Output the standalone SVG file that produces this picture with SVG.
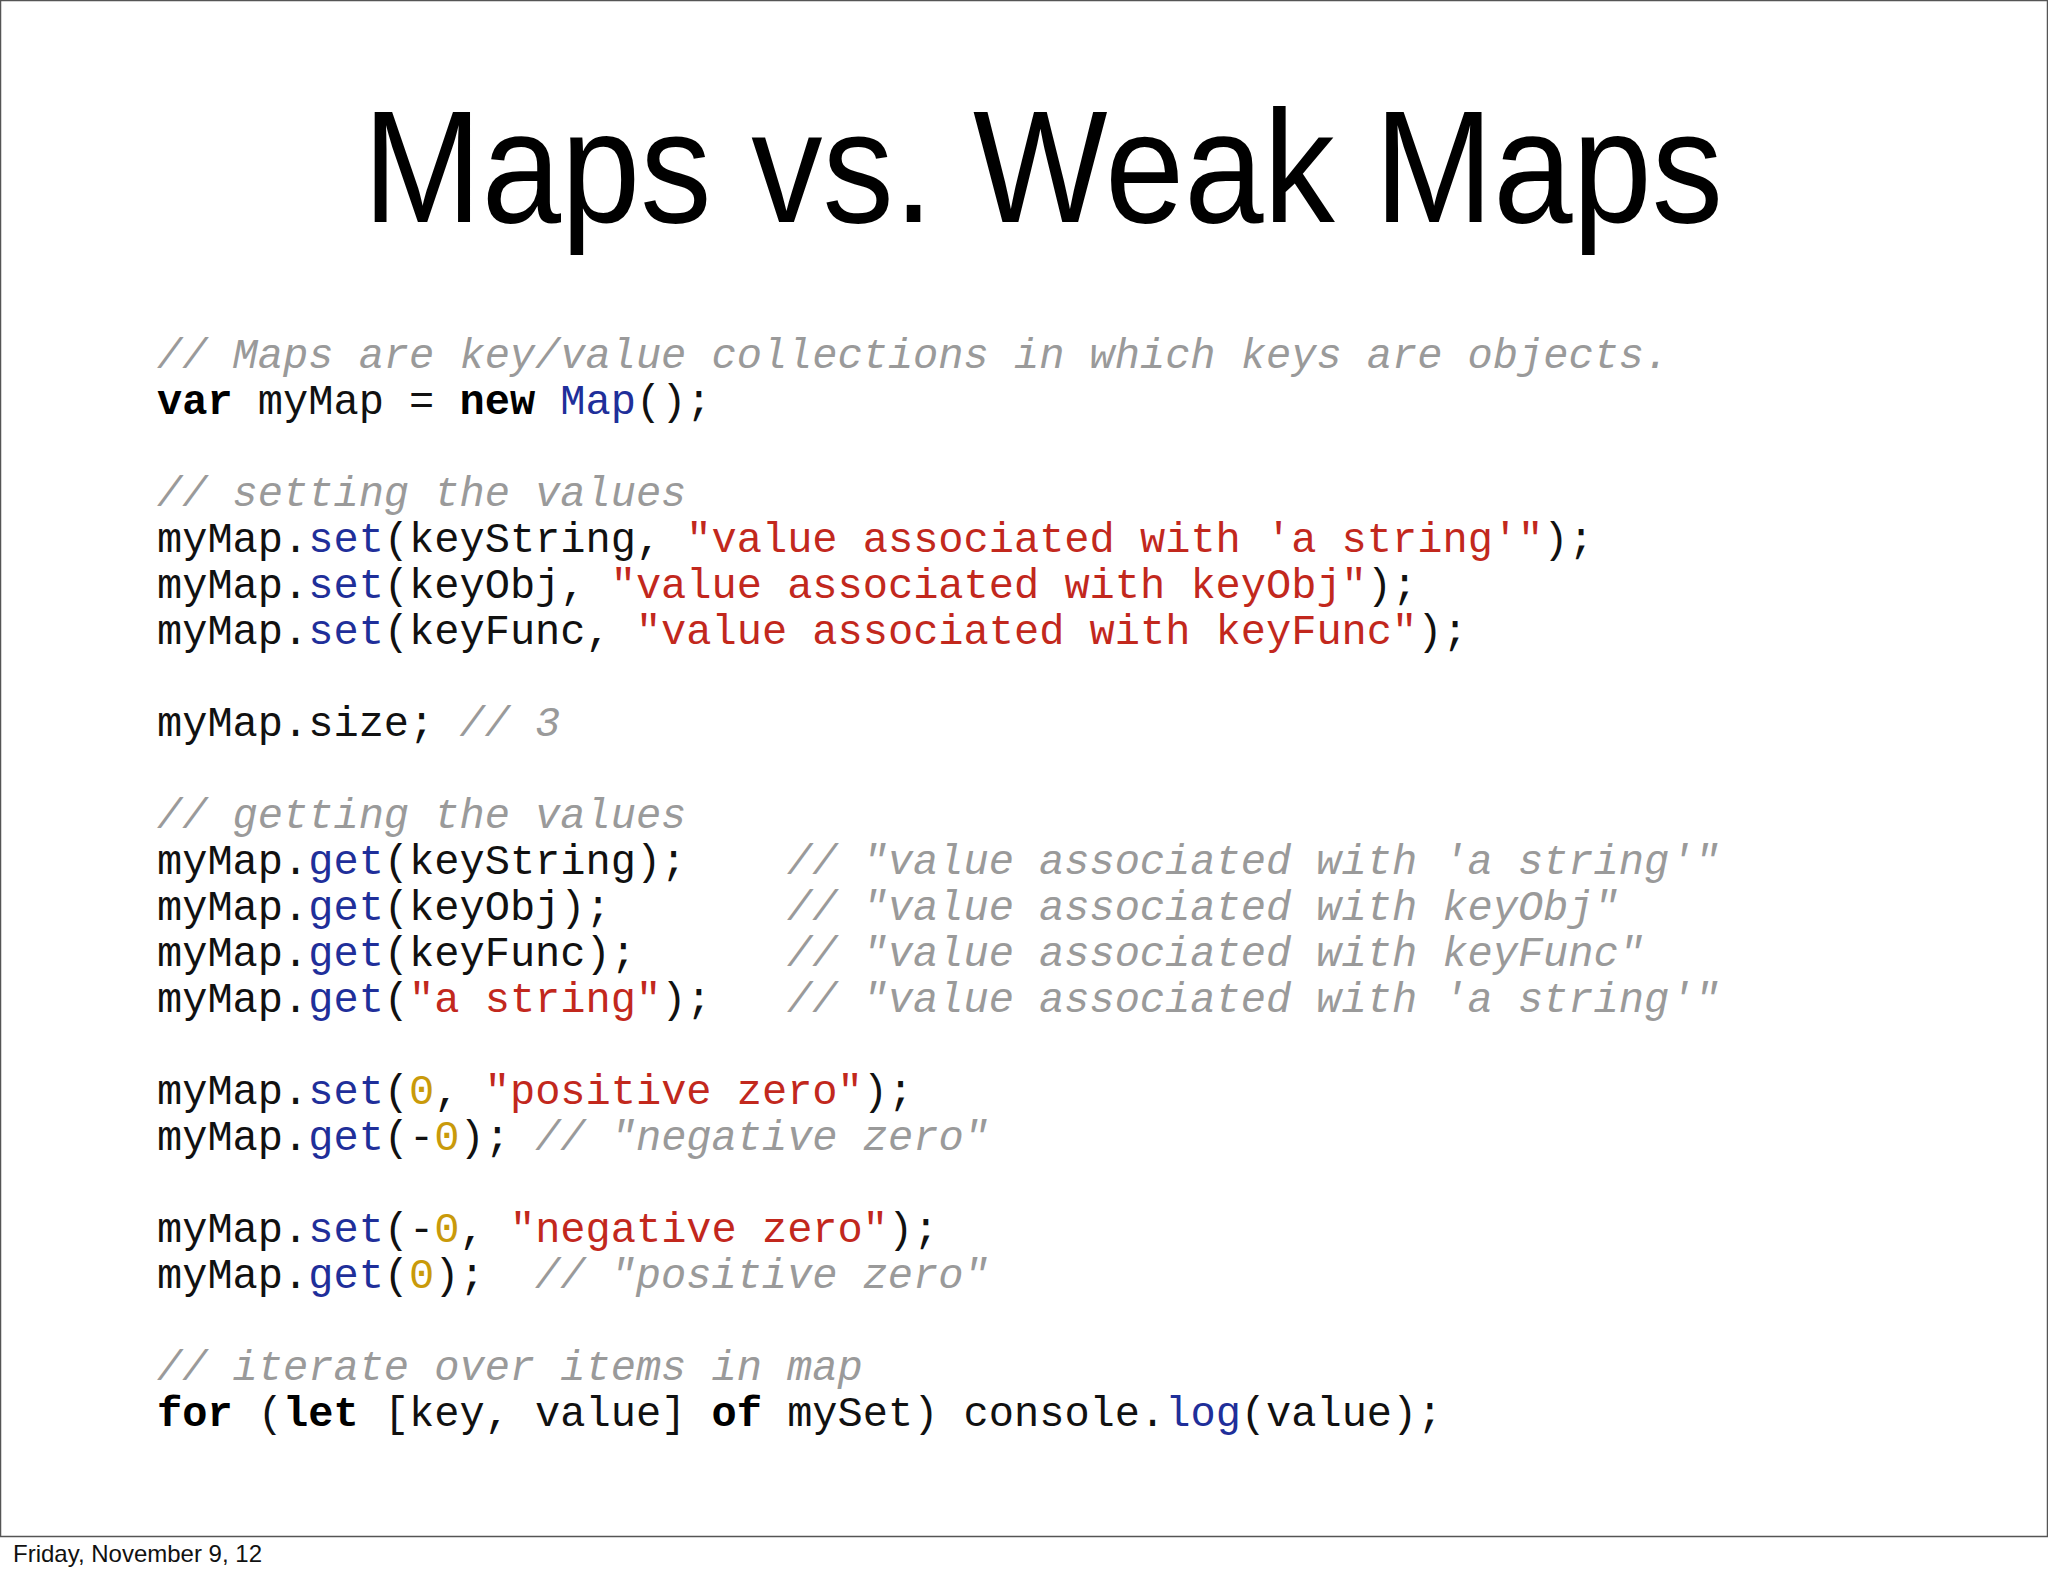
<svg xmlns="http://www.w3.org/2000/svg" width="2048" height="1576" viewBox="0 0 2048 1576">
<style>
.c{font-family:"Liberation Mono",monospace;font-size:42px;fill:#111}
.k{font-weight:bold;fill:#000}
.b{fill:#1f2f9a}
.r{fill:#c2281d}
.n{fill:#c99a0a}
.m{fill:#9a9a9a;font-style:italic}
</style>
<rect x="0" y="0" width="2048" height="1576" fill="#fff"/>
<rect x="0.5" y="0.5" width="2047" height="1536" fill="#fff" stroke="#555" stroke-width="1.5"/>
<g id="title"><text x="1043" y="222" text-anchor="middle" font-family="Gill Sans,'Liberation Sans',sans-serif" font-size="160" textLength="1360" lengthAdjust="spacingAndGlyphs">Maps vs. Weak Maps</text></g>
<g id="code" class="c">
<text x="157" y="368"><tspan class="m">// Maps are key/value collections in which keys are objects.</tspan></text>
<text x="157" y="414"><tspan class="k">var</tspan> myMap = <tspan class="k">new</tspan> <tspan class="b">Map</tspan>();</text>
<text x="157" y="506"><tspan class="m">// setting the values</tspan></text>
<text x="157" y="552">myMap.<tspan class="b">set</tspan>(keyString, <tspan class="r">"value associated with 'a string'"</tspan>);</text>
<text x="157" y="598">myMap.<tspan class="b">set</tspan>(keyObj, <tspan class="r">"value associated with keyObj"</tspan>);</text>
<text x="157" y="644">myMap.<tspan class="b">set</tspan>(keyFunc, <tspan class="r">"value associated with keyFunc"</tspan>);</text>
<text x="157" y="736">myMap.size; <tspan class="m">// 3</tspan></text>
<text x="157" y="828"><tspan class="m">// getting the values</tspan></text>
<text x="157" y="874">myMap.<tspan class="b">get</tspan>(keyString);<tspan class="m" x="787">// "value associated with 'a string'"</tspan></text>
<text x="157" y="920">myMap.<tspan class="b">get</tspan>(keyObj);<tspan class="m" x="787">// "value associated with keyObj"</tspan></text>
<text x="157" y="966">myMap.<tspan class="b">get</tspan>(keyFunc);<tspan class="m" x="787">// "value associated with keyFunc"</tspan></text>
<text x="157" y="1012">myMap.<tspan class="b">get</tspan>(<tspan class="r">"a string"</tspan>);<tspan class="m" x="787">// "value associated with 'a string'"</tspan></text>
<text x="157" y="1104">myMap.<tspan class="b">set</tspan>(<tspan class="n">0</tspan>, <tspan class="r">"positive zero"</tspan>);</text>
<text x="157" y="1150">myMap.<tspan class="b">get</tspan>(-<tspan class="n">0</tspan>); <tspan class="m">// "negative zero"</tspan></text>
<text x="157" y="1242">myMap.<tspan class="b">set</tspan>(-<tspan class="n">0</tspan>, <tspan class="r">"negative zero"</tspan>);</text>
<text x="157" y="1288">myMap.<tspan class="b">get</tspan>(<tspan class="n">0</tspan>);<tspan class="m" x="535">// "positive zero"</tspan></text>
<text x="157" y="1380"><tspan class="m">// iterate over items in map</tspan></text>
<text x="157" y="1426"><tspan class="k">for</tspan> (<tspan class="k">let</tspan> [key, value] <tspan class="k">of</tspan> mySet) console.<tspan class="b">log</tspan>(value);</text>
</g>
<g id="footer"><text x="13" y="1562" font-family="'Liberation Sans',sans-serif" font-size="24" fill="#111">Friday, November 9, 12</text></g>
</svg>
